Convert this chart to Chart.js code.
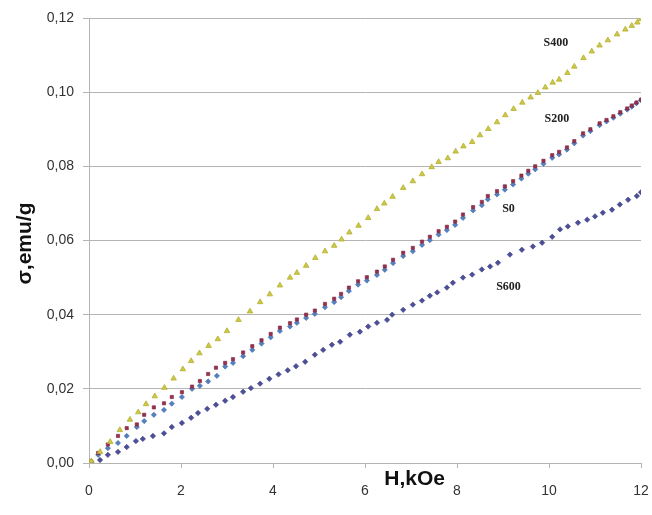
<!DOCTYPE html>
<html><head><meta charset="utf-8">
<script src="https://cdn.jsdelivr.net/npm/chart.js@4"></script>
<style>html,body{margin:0;padding:0;background:#fff}#wrap{width:652px;height:515px}</style>
</head><body><div id="wrap"><canvas id="c" width="652" height="515"></canvas></div>
<script>
// ---- data (H in kOe, sigma in emu/g) ----
const xTicks = [0, 2, 4, 6, 8, 10, 12];
const yTicks = [0, 0.02, 0.04, 0.06, 0.08, 0.10, 0.12];
const xTitle = 'H,kOe';
const yTitle = 'σ,emu/g';

const S400 = [[0,0],[0.05,0.0005],[0.24,0.003],[0.46,0.0057],[0.67,0.0089],[0.89,0.0117],[1.07,0.0137],[1.24,0.0159],[1.43,0.018],[1.64,0.0203],[1.84,0.0228],[2.04,0.0253],[2.22,0.0275],[2.4,0.0296],[2.6,0.0316],[2.8,0.0334],[3.0,0.0356],[3.25,0.0386],[3.5,0.0409],[3.72,0.0434],[3.93,0.0455],[4.15,0.0479],[4.37,0.05],[4.52,0.0513],[4.72,0.0532],[4.92,0.0553],[5.13,0.0571],[5.33,0.0586],[5.49,0.0603],[5.66,0.0622],[5.86,0.064],[6.07,0.0661],[6.26,0.0685],[6.42,0.07],[6.6,0.0718],[6.83,0.0742],[7.04,0.076],[7.24,0.0779],[7.45,0.0798],[7.6,0.0812],[7.8,0.0822],[7.97,0.084],[8.14,0.0854],[8.33,0.0866],[8.5,0.0884],[8.68,0.0901],[8.87,0.0919],[9.05,0.0938],[9.23,0.0955],[9.42,0.0972],[9.6,0.0986],[9.76,0.0998],[9.92,0.1013],[10.08,0.1026],[10.22,0.1034],[10.4,0.1052],[10.55,0.1069],[10.75,0.1092],[10.93,0.111],[11.1,0.1126],[11.28,0.114],[11.48,0.1156],[11.66,0.1169],[11.8,0.1179],[11.92,0.1188],[12.0,0.1197]];

const S200 = [[0,0],[0.05,0.0004],[0.2,0.0027],[0.41,0.005],[0.63,0.0073],[0.82,0.0094],[1.04,0.0104],[1.2,0.013],[1.41,0.015],[1.63,0.0161],[1.8,0.0178],[2.02,0.0191],[2.24,0.0206],[2.41,0.0221],[2.59,0.024],[2.76,0.0257],[2.96,0.027],[3.13,0.028],[3.35,0.0298],[3.55,0.0315],[3.75,0.0331],[3.95,0.0348],[4.15,0.0365],[4.37,0.0377],[4.52,0.0387],[4.72,0.04],[4.91,0.0411],[5.13,0.0429],[5.33,0.0443],[5.48,0.0456],[5.65,0.0473],[5.85,0.049],[6.04,0.0501],[6.26,0.0516],[6.43,0.053],[6.61,0.0548],[6.83,0.0567],[7.04,0.058],[7.24,0.0597],[7.41,0.061],[7.6,0.0625],[7.78,0.0637],[7.96,0.0651],[8.13,0.067],[8.35,0.069],[8.54,0.0704],[8.67,0.072],[8.87,0.0733],[9.04,0.0746],[9.22,0.076],[9.4,0.0775],[9.55,0.0788],[9.7,0.08],[9.88,0.0815],[10.07,0.083],[10.22,0.0839],[10.39,0.0851],[10.55,0.0868],[10.74,0.0889],[10.9,0.09],[11.1,0.0916],[11.25,0.0925],[11.4,0.0935],[11.55,0.0946],[11.7,0.0956],[11.8,0.0964],[11.9,0.0972],[12.0,0.098]];

const S0 = [[0,0],[0.05,0.0002],[0.2,0.0022],[0.41,0.004],[0.63,0.0054],[0.82,0.0073],[1.04,0.0097],[1.2,0.0113],[1.41,0.013],[1.63,0.0143],[1.8,0.016],[2.02,0.0178],[2.24,0.02],[2.41,0.0208],[2.59,0.022],[2.78,0.0235],[2.96,0.026],[3.13,0.027],[3.35,0.0288],[3.55,0.0305],[3.75,0.0322],[3.95,0.0339],[4.15,0.0356],[4.37,0.0368],[4.52,0.0378],[4.72,0.0391],[4.91,0.0402],[5.13,0.042],[5.33,0.0434],[5.48,0.0447],[5.65,0.0464],[5.85,0.0481],[6.04,0.0492],[6.26,0.0507],[6.43,0.0521],[6.61,0.0539],[6.83,0.0558],[7.04,0.0571],[7.24,0.0588],[7.41,0.0601],[7.6,0.0616],[7.78,0.0628],[7.96,0.0642],[8.13,0.0661],[8.35,0.0681],[8.54,0.0695],[8.67,0.0711],[8.87,0.0724],[9.04,0.0737],[9.22,0.0751],[9.4,0.0767],[9.55,0.078],[9.7,0.0792],[9.88,0.0807],[10.07,0.0823],[10.22,0.0832],[10.39,0.0845],[10.55,0.0862],[10.74,0.0883],[10.9,0.0895],[11.1,0.0911],[11.25,0.0921],[11.4,0.0931],[11.55,0.0942],[11.7,0.0953],[11.8,0.0961],[11.9,0.097],[12.0,0.0978]];

const S600 = [[0,0],[0.05,0.0003],[0.24,0.0008],[0.41,0.0022],[0.63,0.003],[0.82,0.0043],[1.02,0.0059],[1.17,0.0065],[1.39,0.0073],[1.63,0.008],[1.8,0.0097],[2.02,0.0108],[2.22,0.0122],[2.37,0.0135],[2.57,0.0146],[2.76,0.0157],[2.96,0.0168],[3.13,0.0178],[3.35,0.0192],[3.52,0.0202],[3.72,0.0214],[3.92,0.0227],[4.12,0.0239],[4.32,0.025],[4.5,0.0261],[4.7,0.0273],[4.91,0.0292],[5.09,0.0305],[5.28,0.0319],[5.46,0.0327],[5.67,0.0346],[5.89,0.0354],[6.07,0.0368],[6.26,0.0378],[6.48,0.0386],[6.59,0.04],[6.83,0.0413],[7.04,0.0427],[7.24,0.0438],[7.41,0.0451],[7.57,0.046],[7.78,0.0473],[7.91,0.0486],[8.13,0.05],[8.33,0.0508],[8.54,0.0522],[8.72,0.053],[8.89,0.054],[9.15,0.0562],[9.41,0.0575],[9.65,0.0584],[9.85,0.0594],[10.07,0.061],[10.24,0.063],[10.41,0.0638],[10.63,0.0648],[10.83,0.0656],[11.0,0.0665],[11.17,0.0675],[11.37,0.0683],[11.54,0.0697],[11.72,0.071],[11.91,0.072],[12.0,0.073]];

// series label anchors (data coordinates)
const seriesLabels = [
  {text:'S400', x:10.15, y:0.1132},
  {text:'S200', x:10.17, y:0.0927},
  {text:'S0',   x:9.12,  y:0.0684},
  {text:'S600', x:9.12,  y:0.0476}
];

const toPts = arr => arr.map(p => ({x:p[0], y:p[1]}));

const textPlugin = {
  id:'texts',
  afterDraw(chart){
    const ctx = chart.ctx, xs = chart.scales.x, ys = chart.scales.y, a = chart.chartArea;
    ctx.save();
    ctx.fillStyle = '#222';
    ctx.font = 'bold 12px "Liberation Serif", "Times New Roman", serif';
    ctx.textAlign = 'center'; ctx.textBaseline = 'middle';
    seriesLabels.forEach(l => ctx.fillText(l.text, xs.getPixelForValue(l.x), ys.getPixelForValue(l.y)));
    ctx.fillStyle = '#111';
    ctx.font = 'bold 21px "Liberation Sans", Arial, sans-serif';
    ctx.fillText(xTitle, a.left + (a.right - a.left) * 0.59, a.bottom + 16);
    ctx.translate(25, (a.top + a.bottom) / 2 + 3);
    ctx.rotate(-Math.PI/2);
    ctx.fillText(yTitle, 0, 0);
    ctx.restore();
  }
};

const gridCol = '#b4b4b4';
new Chart(document.getElementById('c'), {
  type:'scatter',
  data:{datasets:[
    {label:'S400', data:toPts(S400), pointStyle:'triangle', pointRadius:3.2, backgroundColor:'#cdc845', borderColor:'#b5b030', borderWidth:0.8},
    {label:'S200', data:toPts(S200), pointStyle:'rect', pointRadius:2.3, backgroundColor:'#98304e', borderColor:'#7a2440', borderWidth:0.6},
    {label:'S0', data:toPts(S0), pointStyle:'rectRot', pointRadius:2.6, backgroundColor:'#5480c0', borderColor:'#3e68a8', borderWidth:0.6},
    {label:'S600', data:toPts(S600), pointStyle:'rectRot', pointRadius:2.7, backgroundColor:'#4c4f98', borderColor:'#3a3d82', borderWidth:0.6}
  ]},
  options:{
    responsive:false, animation:false,
    layout:{padding:{left:0, right:11, top:18, bottom:0}},
    plugins:{legend:{display:false}, tooltip:{enabled:false}},
    scales:{
      x:{type:'linear', min:0, max:12,
        afterBuildTicks:s => { s.ticks = xTicks.map(v => ({value:v})); },
        afterFit:s => { s.height = 52; s.paddingLeft = 0; s.paddingRight = 0; },
        ticks:{color:'#333', font:{family:'"Liberation Sans", Arial, sans-serif', size:14}, padding:15, maxRotation:0},
        grid:{drawOnChartArea:false, drawTicks:true, tickLength:5, color:gridCol},
        border:{display:true, color:gridCol, width:1}
      },
      y:{type:'linear', min:0, max:0.12,
        afterBuildTicks:s => { s.ticks = yTicks.map(v => ({value:v})); },
        afterFit:s => { s.width = 89; s.paddingTop = 0; s.paddingBottom = 0; },
        ticks:{color:'#333', font:{family:'"Liberation Sans", Arial, sans-serif', size:14}, padding:9,
          callback:v => v.toFixed(2).replace('.', ',')},
        grid:{drawOnChartArea:true, drawTicks:true, tickLength:6, color:gridCol},
        border:{display:true, color:gridCol, width:1}
      }
    }
  },
  plugins:[textPlugin]
});
</script>
</body></html>
